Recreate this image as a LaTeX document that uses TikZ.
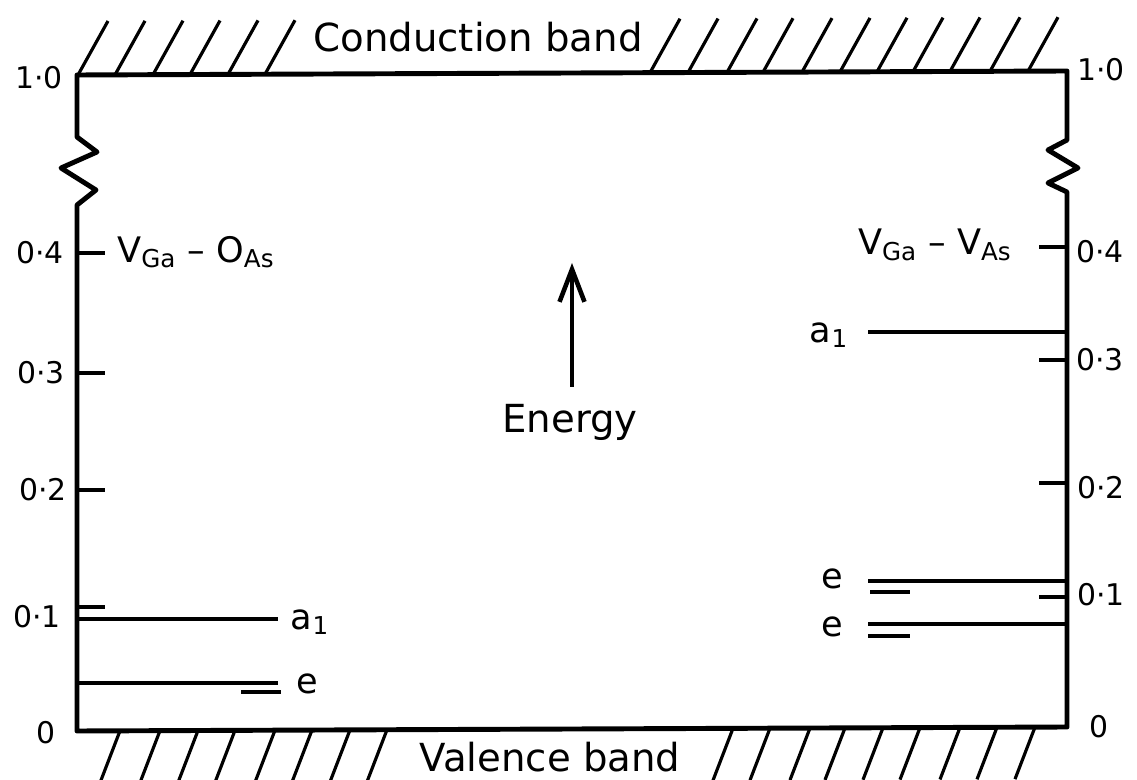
\documentclass[tikz,border=0pt]{standalone}
\usepackage{fontspec}
\setmainfont{DejaVu Sans}
\usetikzlibrary{arrows.meta}
\begin{document}
\begin{tikzpicture}[x=0.02cm, y=-0.02cm, >={Straight Barb[length=6.5mm,width=5mm]},
  frame/.style={line width=2.8pt, line join=round},
  level/.style={line width=2.3pt},
  tick/.style={line width=2.3pt},
  hatch/.style={line width=1.8pt},
  scalelbl/.style={font=\fontsize{17}{19}\selectfont, inner sep=0pt},
  bandlbl/.style={font=\fontsize{22}{26}\selectfont, inner sep=0pt},
  statelbl/.style={font=\fontsize{20}{23}\selectfont, inner sep=0pt}]
  \useasboundingbox (0,0) rectangle (1137,780);
  % gap box with broken energy axes
  \draw[frame] (77,731) -- (77,205) -- (96,190) -- (61,168) -- (97,152) -- (77,137) -- (77,75)
    -- (1067,71) -- (1067,140) -- (1048,150) -- (1078,168) -- (1048,183) -- (1067,192)
    -- (1067,727) -- cycle;
  % band hatching
  \foreach \x in {78,115,153,190,228,265,650,688,727,763,802,840,877,913,950,990,1028}
    \draw[hatch] (\x,{75-0.004*(\x-77)}) -- ++(30,-54);
  \foreach \x in {120,160,198,235,275,312,350,387,733,770,810,845,883,920,960,997,1035}
    \draw[hatch] (\x,{731-0.004*(\x-77)}) -- ++(-20,52);
  \node[bandlbl, anchor=base] (cband) at (478,52) {Conduction band};
  \node[bandlbl, anchor=base] (vband) at (550,771) {Valence band};
  % ticks
  \foreach \y in {253,373,490,607} \draw[tick] (77,\y) -- ++(28,0);
  \foreach \y in {247,360,483,597} \draw[tick] (1067,\y) -- ++(-28,0);
  \node[scalelbl, anchor=east] (l10) at (63,78) {1·0};
  \node[scalelbl, anchor=east] (l04) at (64,253) {0·4};
  \node[scalelbl, anchor=east] (l03) at (65,373) {0·3};
  \node[scalelbl, anchor=east] (l02) at (67,490) {0·2};
  \node[scalelbl, anchor=east] (l01) at (61,617) {0·1};
  \node[scalelbl] (l00) at (46,733) {0};
  \node[scalelbl, anchor=west] (r10) at (1077,70) {1·0};
  \node[scalelbl, anchor=west] (r04) at (1076,252) {0·4};
  \node[scalelbl, anchor=west] (r03) at (1076,360) {0·3};
  \node[scalelbl, anchor=west] (r02) at (1077,488) {0·2};
  \node[scalelbl, anchor=west] (r01) at (1077,595) {0·1};
  \node[scalelbl] (r00) at (1099,727) {0};
  % energy arrow
  \coordinate (etail) at (572,387);
  \coordinate (ehead) at (572,263);
  \draw[->, line width=2.6pt] (etail) -- (ehead);
  \node[bandlbl, anchor=base] (energy) at (570,433) {Energy};
  % defect levels
  \node[statelbl, anchor=west] (vgaoas) at (117,252) {V\textsubscript{Ga} – O\textsubscript{As}};
  \node[statelbl, anchor=east] (vgavas) at (1012,245) {V\textsubscript{Ga} – V\textsubscript{As}};
  \draw[level] (77,619) -- (278,619);
  \draw[level] (77,683) -- (278,683);
  \draw[level] (241,692) -- (281,692);
  \node[statelbl] (a1l) at (310,622) {a\textsubscript{1}};
  \node[statelbl] (el) at (307,684) {e};
  \draw[level] (868,332) -- (1067,332);
  \draw[level] (868,581) -- (1067,581);
  \draw[level] (870,592) -- (910,592);
  \draw[level] (868,624) -- (1067,624);
  \draw[level] (868,636) -- (910,636);
  \node[statelbl] (a1r) at (829,335) {a\textsubscript{1}};
  \node[statelbl] (er1) at (832,579) {e};
  \node[statelbl] (er2) at (832,627) {e};
\end{tikzpicture}
\end{document}
